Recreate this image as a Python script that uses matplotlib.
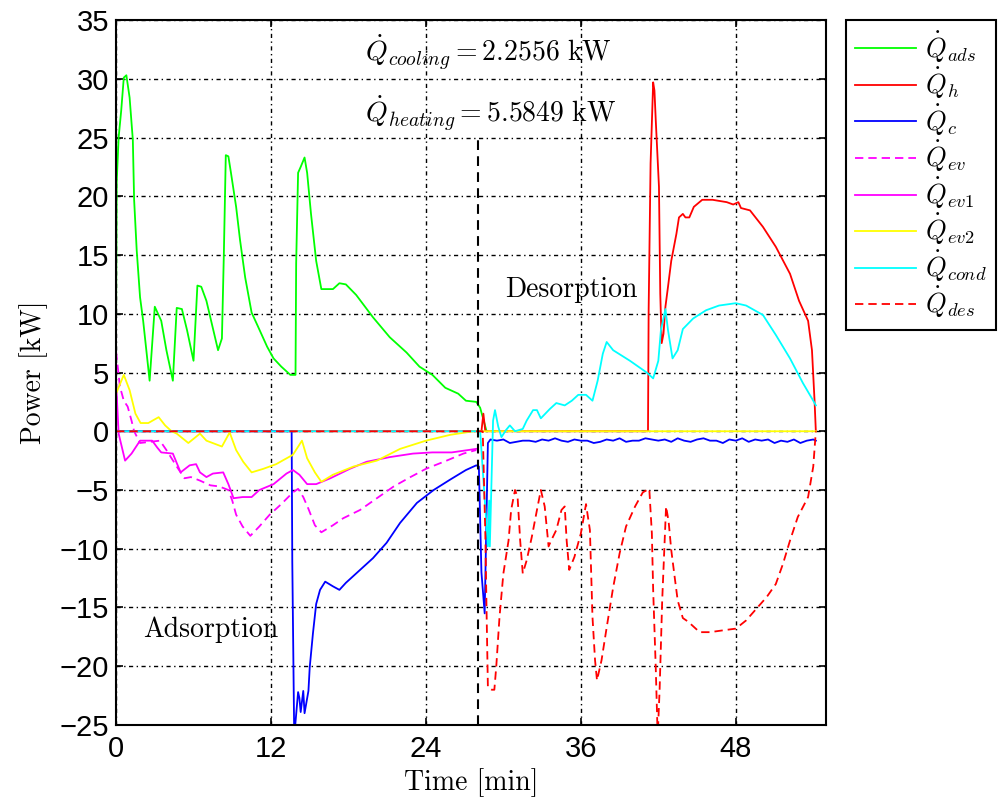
import matplotlib
matplotlib.use("Agg")
import matplotlib.pyplot as plt

# --- data (time in min, power in kW) ---
t_ads = [0, 0.05, 0.2, 0.4, 0.6, 0.8, 1.05, 1.3, 1.4, 1.6, 1.86, 2.1, 2.6, 3.0, 3.5, 3.9, 4.4,
         4.7, 5.1, 5.5, 6.0, 6.3, 6.6, 7.0, 7.9, 8.2, 8.35, 8.5, 8.7, 8.9, 9.3, 9.6, 10.0, 10.5,
         11.0, 11.7, 12.2, 12.8, 13.5, 13.9, 13.95, 14.1, 14.3, 14.6, 14.8, 15.1, 15.5, 15.9,
         16.8, 17.3, 17.8, 18.6, 19.9, 21.2, 22.5, 23.5, 24.5, 25.5, 26.5, 27.1, 27.9, 28.2,
         28.4, 28.7]
q_ads = [8.6, 21.2, 25.0, 27.3, 30.1, 30.3, 28.4, 24.8, 19.7, 15.4, 11.4, 9.4, 4.3, 10.6, 9.4,
         6.9, 4.3, 10.5, 10.4, 8.6, 6.0, 12.4, 12.3, 11.1, 6.9, 7.9, 15.1, 23.5, 23.4, 22.0,
         19.1, 16.3, 13.1, 10.1, 8.9, 7.2, 6.2, 5.5, 4.8, 4.8, 14.3, 22.0, 22.5, 23.3, 22.0,
         18.5, 14.5, 12.1, 12.1, 12.6, 12.5, 11.6, 9.7, 8.0, 6.7, 5.5, 4.8, 3.7, 3.2, 2.6, 2.5,
         2.0, 1.2, 0.0]

t_h = [0, 28.3, 28.45, 28.6, 41.2, 41.25, 41.4, 41.6, 41.7, 41.8, 42.05, 42.15, 42.26, 42.4,
       42.55, 42.75, 43.0, 43.4, 43.6, 43.9, 44.1, 44.4, 44.75, 45.4, 46.2, 47.3, 47.8, 48.2,
       48.4, 49.1, 50.1, 51.1, 52.2, 52.9, 53.6, 53.9, 54.1, 54.2]
q_h = [0, 0, 1.5, 0, 0, 10.3, 22.8, 29.7, 29.0, 26.5, 20.8, 11.7, 7.5, 8.3, 10.6, 12.3, 14.5,
       16.8, 18.2, 18.5, 18.2, 18.2, 19.1, 19.7, 19.7, 19.5, 19.3, 19.5, 19.0, 18.8, 17.4,
       15.7, 13.4, 11.1, 9.4, 6.9, 2.6, 0.0]

t_c = [0, 13.6, 13.65, 13.8, 14.1, 14.2, 14.3, 14.5, 14.6, 14.9, 15.0, 15.25, 15.5, 15.8,
       16.2, 16.8, 17.3, 17.8, 18.9, 19.9, 20.95, 22.0, 23.3, 24.6, 25.9, 27.1, 27.9, 28.1,
       28.3, 28.55, 28.8,
       29.0, 29.5, 30.0, 30.5, 31.0, 31.5, 32.0, 32.5, 33.0, 33.5, 34.0, 34.5, 35.0, 35.5,
       36.0, 36.5, 37.0, 37.5, 38.0, 38.5, 39.0, 39.5, 40.0, 40.5, 41.0, 41.5, 42.0, 42.5,
       43.0, 43.5, 44.0, 44.5, 45.0, 45.5, 46.0, 46.5, 47.0, 47.5, 48.0, 48.5, 49.0, 49.5,
       50.0, 50.5, 51.0, 51.5, 52.0, 52.5, 53.0, 53.5, 54.0, 54.2]
q_c = [0, 0, -11.1, -26.0, -22.2, -22.7, -23.9, -22.1, -24.0, -22.1, -20.1, -17.2, -14.7,
       -13.5, -12.8, -13.2, -13.5, -12.9, -11.8, -10.8, -9.5, -7.8, -6.1, -5.0, -4.1, -3.3,
       -2.9, -3.0, -12.0, -15.5, -1.0,
       -0.7, -0.8, -0.7, -1.0, -0.9, -0.8, -0.8, -0.9, -0.7, -0.8, -0.6, -0.8, -0.9, -0.7,
       -0.8, -0.8, -1.0, -0.9, -0.7, -0.8, -0.6, -0.9, -0.8, -0.8, -0.6, -0.7, -0.8, -0.7,
       -0.9, -0.6, -0.8, -0.9, -0.7, -0.6, -0.8, -0.8, -1.0, -0.7, -0.8, -0.6, -0.9, -0.7,
       -0.8, -0.7, -1.0, -0.8, -0.9, -0.7, -1.0, -0.8, -0.7, -0.8]

t_ev = [0, 0.3, 0.6, 0.9, 1.2, 1.4, 1.86, 3.4, 3.9, 4.7, 5.3, 5.8, 6.5, 7.3, 8.0, 8.7, 9.0,
        9.3, 9.8, 10.4, 11.1, 11.9, 12.8, 13.7, 14.1, 14.5, 14.9, 15.4, 15.9, 16.8, 17.6,
        18.9, 20.2, 21.5, 22.8, 24.0, 25.6, 26.9, 27.9]
q_ev = [6.8, 3.8, 2.6, 2.1, 0.9, 0.0, -1.0, -0.8, -1.6, -3.0, -4.0, -3.9, -4.2, -4.6, -4.7,
        -5.0, -5.9, -7.1, -8.1, -8.9, -8.1, -7.1, -6.2, -5.2, -4.9, -5.6, -6.6, -8.0, -8.6,
        -8.0, -7.4, -6.7, -5.7, -4.7, -3.9, -3.2, -2.5, -1.9, -1.6]

t_ev1 = [0, 0.2, 0.7, 1.2, 1.86, 2.8, 3.2, 3.5, 4.4, 5.0, 5.7, 6.2, 6.5, 7.0, 7.5, 8.3, 8.7,
         9.1, 9.8, 10.5, 11.1, 12.2, 13.2, 13.7, 14.2, 14.8, 15.5, 16.6, 18.1, 19.4, 21.2,
         23.0, 24.5, 26.0, 27.9]
q_ev1 = [4.3, -0.2, -2.5, -1.9, -0.8, -0.8, -1.4, -1.8, -1.9, -3.5, -2.9, -2.8, -3.5, -3.9,
         -3.6, -3.5, -4.5, -5.7, -5.6, -5.6, -5.0, -4.5, -3.6, -3.3, -3.7, -4.5, -4.5, -4.0,
         -3.2, -2.6, -2.2, -1.9, -1.8, -1.8, -1.5]

t_ev2 = [0, 0.6, 1.05, 1.5, 1.9, 2.5, 3.3, 3.8, 4.3, 4.7, 5.6, 6.5, 7.0, 8.2, 8.8, 9.3, 9.85,
         10.5, 11.4, 12.4, 13.7, 14.4, 14.8, 15.4, 15.9, 16.8, 18.4, 20.2, 22.0, 24.0, 25.9,
         27.7, 54.2]
q_ev2 = [3.2, 4.8, 3.5, 1.5, 0.7, 0.7, 1.2, 0.5, 0.0, -0.2, -1.0, -0.2, -0.8, -1.3, -0.1,
         -1.6, -2.6, -3.5, -3.2, -2.8, -2.0, -0.8, -2.3, -3.5, -4.3, -3.7, -3.0, -2.5, -1.5,
         -0.8, -0.3, 0.0, 0.0]

t_cond = [0, 28.2, 28.8, 28.9, 28.95, 29.2, 29.35, 29.6, 29.85, 30.2, 30.5, 30.9, 31.5, 31.8,
          32.3, 32.6, 32.9, 33.6, 34.1, 34.75, 35.3, 35.8, 36.4, 36.9, 37.3, 37.7, 38.0, 38.5,
          39.8, 41.1, 41.6, 42.0, 42.2, 42.55, 42.75, 43.1, 43.5, 43.9, 44.7, 45.7, 46.7, 48.0,
          48.8, 50.1, 51.1, 52.2, 53.2, 54.0, 54.2]
q_cond = [0, 0, -9.8, -5.9, -9.8, 0.9, 1.8, 0.4, -0.5, 0.1, 0.5, 0.0, 0.2, 0.9, 1.8, 1.8, 1.1,
          1.9, 2.4, 2.2, 2.6, 3.1, 3.1, 2.6, 4.3, 6.6, 7.6, 6.9, 6.0, 5.0, 4.5, 6.0, 8.6, 10.4,
          8.6, 6.2, 6.9, 8.7, 9.6, 10.3, 10.7, 10.9, 10.7, 9.9, 8.2, 6.2, 4.1, 2.6, 2.2]

t_des = [0, 28.4, 28.6, 28.7, 28.8, 29.1, 29.3, 29.45, 29.7, 30.0, 30.4, 30.6, 30.9, 31.1,
         31.3, 31.5, 31.8, 32.2, 32.6, 32.9, 33.2, 33.5, 33.7, 34.1, 34.5, 34.75, 34.9, 35.1,
         35.5, 36.0, 36.4, 36.7, 36.9, 37.1, 37.25, 37.6, 38.0, 38.5, 39.0, 39.5, 40.2, 40.8,
         41.3, 41.5, 41.6, 41.8, 41.95, 42.1, 42.3, 42.6, 42.8, 43.0, 43.3, 43.5, 43.9, 44.3,
         45.2, 46.0, 47.3, 48.0, 48.8, 49.6, 50.4, 51.1, 51.65, 52.2, 52.8, 53.6, 54.0, 54.2]
q_des = [0, 0, -8.7, -15.5, -21.8, -22.0, -22.0, -20.0, -15.8, -12.1, -9.3, -6.7, -5.0, -5.6,
         -9.3, -12.1, -11.0, -9.0, -6.7, -5.0, -6.4, -9.8, -9.3, -8.4, -6.7, -6.4, -9.3, -11.8,
         -10.7, -8.7, -6.2, -8.4, -15.8, -19.5, -21.2, -19.5, -16.7, -13.3, -10.4, -8.1, -6.4,
         -5.2, -4.9, -8.7, -13.5, -20.1, -26.0, -22.0, -14.4, -6.4, -7.7, -10.1, -12.7, -14.4,
         -15.9, -16.2, -17.1, -17.1, -16.9, -16.8, -16.1, -15.1, -14.1, -13.0, -11.3, -9.3,
         -7.3, -5.6, -3.0, 0.0]

x_ticks = [0, 12, 24, 36, 48]
y_ticks = list(range(-25, 36, 5))
switch_time = 28.0

plt.rcParams['mathtext.fontset'] = 'cm'
plt.rcParams['lines.scale_dashes'] = False

fig = plt.figure(figsize=(10.03, 8.05), dpi=100)
ax = fig.add_axes([0.1157, 0.0994, 0.708, 0.8757])

lw = 1.3
ax.plot(t_ads, q_ads, color=(0, 1, 0), lw=lw, label=r'$\dot{Q}_{ads}$')
ax.plot(t_h, q_h, color=(1, 0, 0), lw=lw, label=r'$\dot{Q}_{h}$')
ax.plot(t_c, q_c, color=(0, 0, 1), lw=lw, label=r'$\dot{Q}_{c}$')
ax.plot(t_ev, q_ev, color=(1, 0, 1), lw=lw, dashes=(6, 3.6), label=r'$\dot{Q}_{ev}$')
ax.plot(t_ev1, q_ev1, color=(1, 0, 1), lw=lw, label=r'$\dot{Q}_{ev1}$')
ax.plot(t_ev2, q_ev2, color=(1, 1, 0), lw=lw, label=r'$\dot{Q}_{ev2}$')
ax.plot(t_cond, q_cond, color=(0, 1, 1), lw=lw, label=r'$\dot{Q}_{cond}$')
ax.plot(t_des, q_des, color=(1, 0, 0), lw=lw, dashes=(6, 3.6), label=r'$\dot{Q}_{des}$')

# switch between adsorption and desorption
ax.plot([switch_time, switch_time], [-25, 25], color='black', lw=1.5, dashes=(7, 4.5))

ax.set_xlim(0, 55)
ax.set_ylim(-25, 35)
ax.set_xticks(x_ticks)
ax.set_yticks(y_ticks)
ax.grid(True, color='black', lw=1.0, linestyle=(0, (3, 2.5, 1, 2.5)))
ax.tick_params(direction='in', top=True, right=True, length=5, width=1.2, labelsize=21)
ax.tick_params(axis='x', pad=7)
ax.tick_params(axis='y', pad=5)
for lab in ax.get_xticklabels() + ax.get_yticklabels():
    lab.set_family('Liberation Sans')
for s in ax.spines.values():
    s.set_linewidth(1.5)

ax.set_xlabel('Time [min]', family='cmr10', fontsize=20, labelpad=4)
ax.set_ylabel('Power [kW]', family='cmr10', fontsize=20, labelpad=8)

ax.text(19.3, 32.3, r'$\dot{Q}_{cooling} = 2.2556\ \mathrm{kW}$', fontsize=20, va='center')
ax.text(19.3, 27.1, r'$\dot{Q}_{heating} = 5.5849\ \mathrm{kW}$', fontsize=20, va='center')
ax.text(30.1, 12.0, 'Desorption', family='cmr10', fontsize=20, va='center')
ax.text(2.1, -16.9, 'Adsorption', family='cmr10', fontsize=20, va='center')

leg = fig.legend(loc='upper left', bbox_to_anchor=(0.8435, 0.975), borderaxespad=0,
                 fontsize=19, handlelength=2.3, labelspacing=0.05, handletextpad=0.35,
                 fancybox=False, edgecolor='black', framealpha=1, borderpad=0.35)
leg.get_frame().set_linewidth(1.5)

fig.savefig('out.png', dpi=100)
